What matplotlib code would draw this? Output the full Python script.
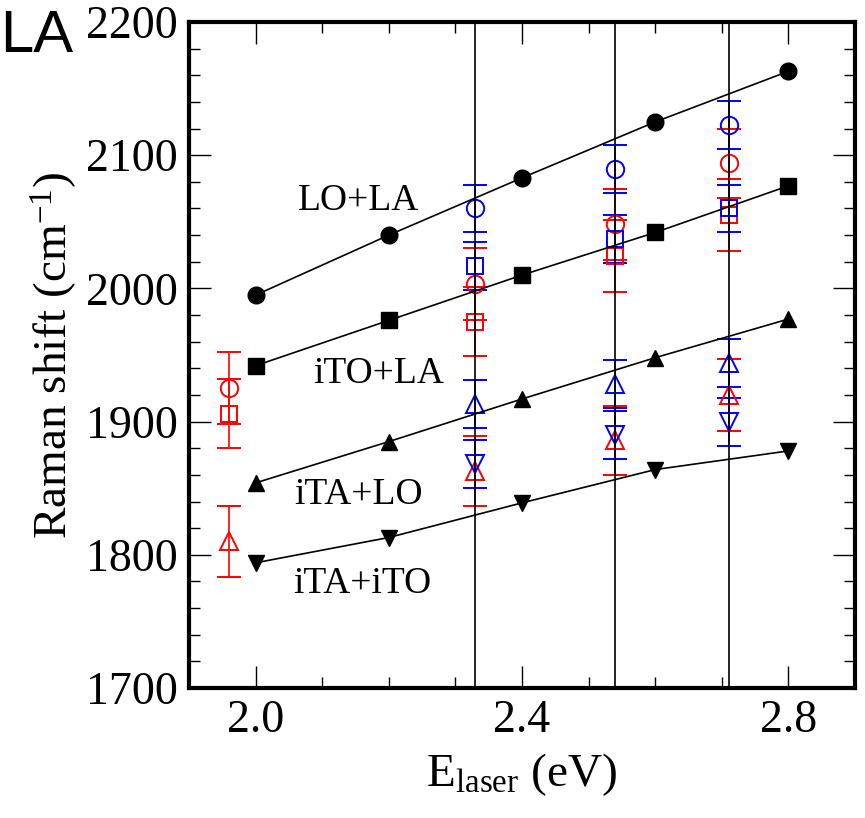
"""Raman shift of the combination modes vs laser energy (LA panel)."""

import matplotlib
matplotlib.use('Agg')
import matplotlib.pyplot as plt
from matplotlib.ticker import MultipleLocator, FormatStrFormatter

# data: black series (theory)
e_theory = [2.0, 2.2, 2.4, 2.6, 2.8]
lo_la = [1995, 2040, 2083, 2125, 2163]
ito_la = [1942, 1976, 2010, 2042, 2077]
ita_lo = [1854, 1885, 1917, 1948, 1977]
ita_ito = [1794, 1813, 1839, 1864, 1878]

# data: red series (experiment 1)
e_red = [1.96, 2.33, 2.54, 2.71]
red_circle = [1925, 2003, 2048, 2094]
red_circle_err = [27, 27, 27, 26]
red_square = [1906, 1975, 2024, 2055]
red_square_err = [26, 26, 27, 27]
red_tri = [1810, 1863, 1886, 1920]
red_tri_err = [27, 26, 26, 27]

# data: blue series (experiment 2)
e_blue = [2.33, 2.54, 2.71]
blue_circle = [2060, 2090, 2123]
blue_square = [2017, 2037, 2060]
blue_tri_up = [1913, 1928, 1944]
blue_tri_down = [1868, 1890, 1900]
blue_err = [18, 18, 18]

laser_lines = [2.33, 2.54, 2.71]
mode_labels = ['LO+LA', 'iTO+LA', 'iTA+LO', 'iTA+iTO']
label_x = [2.064, 2.086, 2.058, 2.056]
label_y = [2059, 1929, 1838, 1771]

# basic plot settings
plt.rcParams['font.family'] = 'Liberation Serif'
plt.rcParams['mathtext.fontset'] = 'custom'
plt.rcParams['mathtext.rm'] = 'Liberation Serif'
plt.rcParams['mathtext.it'] = 'Liberation Serif:italic'
plt.rcParams['mathtext.default'] = 'regular'

fig = plt.figure(figsize=(8.65, 8.18), dpi=100)
ax = fig.add_axes([0.2185, 0.1589, 0.770, 0.8142])

for xl in laser_lines:
    ax.axvline(xl, color='k', lw=1.2, zorder=4)

# black curves
for yy, mk, ms in [(lo_la, 'o', 12), (ito_la, 's', 11),
                   (ita_lo, '^', 12), (ita_ito, 'v', 12)]:
    ax.plot(e_theory, yy, '-', color='k', lw=1.2, marker=mk, ms=ms,
            mfc='k', mec='k', zorder=5)

# red points
ebkw = dict(ls='none', mfc='none', lw=1.2, elinewidth=1.2, capthick=1.2,
            capsize=8.5, ms=12.5, mew=1.4, zorder=3)
ax.errorbar(e_red, red_circle, yerr=red_circle_err, marker='o',
            color='red', **ebkw)
ax.errorbar(e_red, red_square, yerr=red_square_err, marker='s',
            color='red', **{**ebkw, 'ms': 11})
ax.errorbar(e_red, red_tri, yerr=red_tri_err, marker='^',
            color='red', **ebkw)

# blue points
ax.errorbar(e_blue, blue_circle, yerr=blue_err, marker='o',
            color='blue', **ebkw)
ax.errorbar(e_blue, blue_square, yerr=blue_err, marker='s',
            color='blue', **{**ebkw, 'ms': 11})
ax.errorbar(e_blue, blue_tri_up, yerr=blue_err, marker='^',
            color='blue', **ebkw)
ax.errorbar(e_blue, blue_tri_down, yerr=blue_err, marker='v',
            color='blue', **ebkw)

for lab, lx, ly in zip(mode_labels, label_x, label_y):
    ax.text(lx, ly, lab, fontsize=27, ha='left', va='baseline')

ax.set_xlim(1.9, 2.9)
ax.set_ylim(1700, 2200)
ax.xaxis.set_major_locator(MultipleLocator(0.4))
ax.xaxis.set_minor_locator(MultipleLocator(0.1))
ax.xaxis.set_major_formatter(FormatStrFormatter('%.1f'))
ax.yaxis.set_major_locator(MultipleLocator(100))
ax.yaxis.set_minor_locator(MultipleLocator(20))
ax.tick_params(which='both', direction='in', top=True, right=True,
               labelsize=33, width=1.0)
ax.tick_params(which='major', length=16, pad=8)
ax.tick_params(which='minor', length=8)
for sp in ax.spines.values():
    sp.set_linewidth(3)

ax.set_ylabel(r'Raman shift (cm$^{-1}$)', fontsize=34)
ax.set_xlabel(r'E$_{\mathrm{laser}}$ (eV)', fontsize=34)
ax.yaxis.set_label_coords(-0.165, 0.5)
ax.xaxis.set_label_coords(0.5, -0.095)

fig.text(0.0, 1 - 52 / 818, 'LA', fontsize=43, family='Liberation Sans',
         ha='left', va='baseline')

fig.savefig('out.png', dpi=100)
